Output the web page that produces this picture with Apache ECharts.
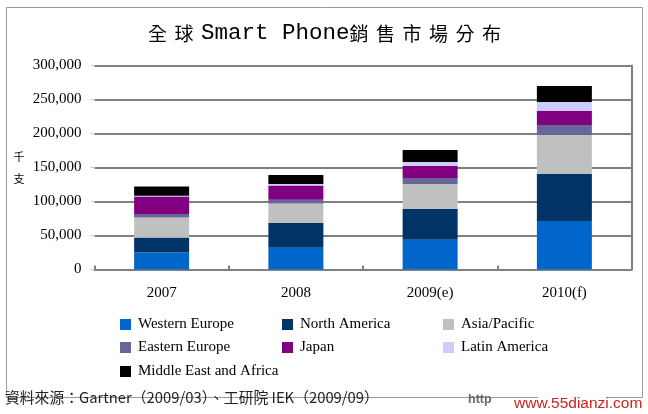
<!DOCTYPE html>
<html>
<head>
<meta charset="utf-8">
<title>全球Smart Phone銷售市場分布</title>
<script src="https://cdn.jsdelivr.net/npm/echarts@6/dist/echarts.min.js"></script>
<style>
  html, body { margin: 0; padding: 0; background: #fff; }
  #main { width: 648px; height: 414px; }
</style>
</head>
<body>
<div id="main"></div>
<script>
var categories = ['2007', '2008', '2009(e)', '2010(f)'];
var seriesNames = ['Western Europe', 'North America', 'Asia/Pacific', 'Eastern Europe', 'Japan', 'Latin America', 'Middle East and Africa'];
var westernEurope = [25000, 31900, 43600, 71500];
var northAmerica = [22000, 36800, 45600, 69100];
var asiaPacific = [29400, 28400, 36700, 57300];
var easternEurope = [5400, 5400, 8800, 14700];
var japan = [25500, 21000, 17600, 20600];
var latinAmerica = [1000, 2400, 5900, 13200];
var middleEastAfrica = [13700, 13200, 17600, 23500];
var colors = ['#0066cc', '#003366', '#c0c0c0', '#666699', '#800080', '#ccccff', '#000000'];
var legendLeft = [120, 282, 443];
var legendTop = [317, 340, 364];
var serifFont = '"Liberation Serif", serif';
var cjkFont = '"Noto Sans CJK TC", sans-serif';

var allValues = [westernEurope, northAmerica, asiaPacific, easternEurope, japan, latinAmerica, middleEastAfrica];

// 标题每个字单独加间距
function titleText() {
    var head = '全球'.split('').map(function (c) { return '{c|' + c + '}'; }).join('');
    var tail = '銷售市場分布'.split('').map(function (c) { return '{c|' + c + '}'; }).join('');
    return head + '{m|Smart Phone}' + tail;
}

var series = seriesNames.map(function (name, i) {
    return {
        name: name,
        type: 'bar',
        stack: 'total',
        barWidth: 55,
        itemStyle: { color: colors[i] },
        data: allValues[i]
    };
});

var legends = seriesNames.map(function (name, i) {
    return {
        data: [name],
        left: legendLeft[i % 3],
        top: legendTop[Math.floor(i / 3)],
        itemWidth: 11,
        itemHeight: 11,
        itemGap: 0,
        padding: 0,
        icon: 'rect',
        selectedMode: false,
        textStyle: { fontFamily: serifFont, fontSize: 15, color: '#000', padding: [0, 0, 0, 2] }
    };
});

var chart = echarts.init(document.getElementById('main'));
chart.setOption({
    animation: false,
    backgroundColor: '#fff',
    title: {
        text: titleText(),
        left: 148,
        top: 22,
        padding: 0,
        textStyle: {
            rich: {
                c: { fontFamily: cjkFont, fontSize: 19, fontWeight: 'normal', color: '#000', padding: [0, 7.5, 0, 0] },
                m: { fontFamily: '"Liberation Mono", monospace', fontSize: 22.5, fontWeight: 'normal', color: '#000' }
            }
        }
    },
    legend: legends,
    grid: { left: 94.5, right: 16.5, top: 65.5, bottom: 144.5 },
    xAxis: {
        type: 'category',
        data: categories,
        axisLine: { lineStyle: { color: '#808080', width: 2 } },
        axisTick: { show: true, inside: true, length: 4, lineStyle: { color: '#808080', width: 2 } },
        axisLabel: { margin: 16, fontFamily: serifFont, fontSize: 15, color: '#000' }
    },
    yAxis: [
        {
            type: 'value',
            min: 0,
            max: 300000,
            interval: 50000,
            name: '千\n支',
            nameLocation: 'middle',
            nameRotate: 0,
            nameGap: 70,
            nameTextStyle: { fontFamily: cjkFont, fontSize: 11, color: '#000', lineHeight: 22 },
            axisLine: { show: false },
            axisTick: { show: true, length: 4, lineStyle: { color: '#c8c8c8' } },
            axisLabel: { margin: 13, padding: [5, 0, 0, 0], fontFamily: serifFont, fontSize: 15, color: '#000' },
            splitLine: { lineStyle: { color: '#808080', width: 2 } }
        },
        {
            type: 'value',
            position: 'right',
            min: 0,
            max: 300000,
            interval: 50000,
            axisLine: { show: true, lineStyle: { color: '#808080', width: 2 } },
            axisTick: { show: false },
            axisLabel: { show: false },
            splitLine: { show: false }
        }
    ],
    series: series,
    graphic: [
        { type: 'rect', z: -1, shape: { x: 6.5, y: 7.5, width: 636, height: 390 }, style: { fill: 'none', stroke: '#999', lineWidth: 1 } },
        { type: 'rect', z: 1, shape: { x: 538, y: 395, width: 70, height: 5 }, style: { fill: '#fff' } },
        { type: 'text', z: 2, left: 5, top: 390, style: { text: '資料來源：Gartner（2009/03）、工研院 IEK（2009/09）', font: '14.8px ' + cjkFont, fill: '#222' } },
        { type: 'text', z: 2, left: 468, top: 393, style: { text: 'http', font: 'bold 12.5px "Liberation Sans", sans-serif', fill: '#667' } },
        { type: 'text', z: 2, left: 514, top: 396, style: { text: 'www.55dianzi.com', font: '15.5px "Liberation Sans", sans-serif', fill: '#cc2222' } }
    ]
});
</script>
</body>
</html>
